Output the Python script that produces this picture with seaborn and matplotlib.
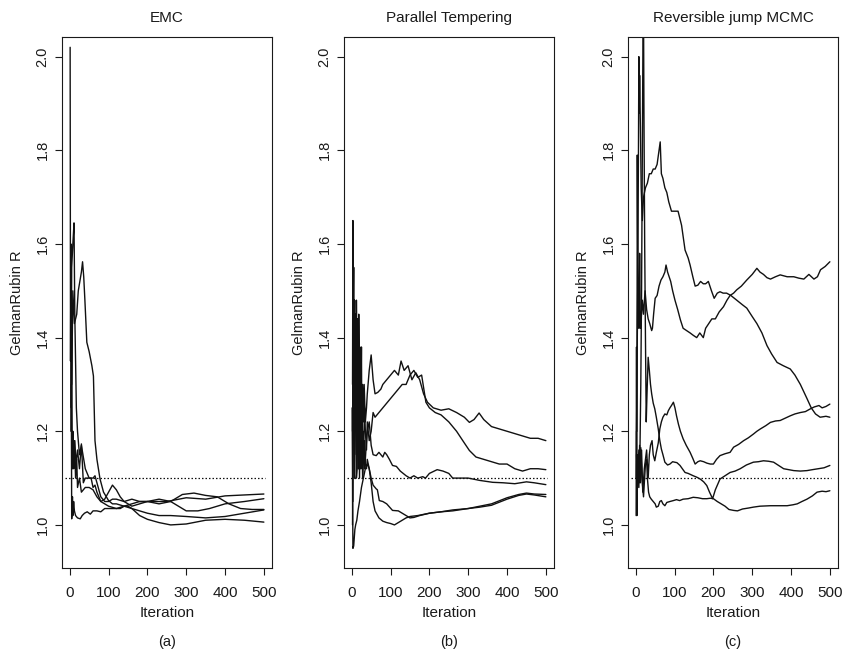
import matplotlib
matplotlib.use("Agg")
import matplotlib.pyplot as plt
import pandas as pd
import seaborn as sns

sns.set_theme(style="ticks")
plt.rcParams['font.family'] = ['Liberation Sans', 'DejaVu Sans']

panel_titles = ["EMC", "Parallel Tempering", "Reversible jump MCMC"]
panel_tags = ["(a)", "(b)", "(c)"]
x_ticks = [0, 100, 200, 300, 400, 500]
y_ticks = [1.0, 1.2, 1.4, 1.6, 1.8, 2.0]
y_tick_labels = ["1.0", "1.2", "1.4", "1.6", "1.8", "2.0"]
threshold = 1.1

# ---------------- (a) EMC ----------------
emc_it_1 = [1, 2, 3, 4, 5, 6, 8, 10, 12, 15, 18, 20, 25, 30, 40, 50, 60, 70, 80, 90, 100, 120, 140, 160, 180, 200, 230, 260, 300, 350, 400, 450, 500]
emc_r_1 = [2.02, 1.35, 1.6, 1.25, 1.4, 1.15, 1.2, 1.12, 1.18, 1.10, 1.14, 1.08, 1.1, 1.07, 1.08, 1.08, 1.075, 1.06, 1.05, 1.045, 1.04, 1.035, 1.04, 1.035, 1.02, 1.012, 1.005, 1.0, 1.002, 1.01, 1.012, 1.01, 1.006]
emc_it_2 = [3, 5, 8, 11, 13, 15, 17, 20, 25, 30, 40, 50, 60, 65, 70, 80, 90, 100, 110, 120, 140, 160, 180, 200, 230, 260, 290, 320, 350, 380, 410, 440, 470, 500]
emc_r_2 = [1.2, 1.55, 1.6, 1.645, 1.45, 1.35, 1.25, 1.2, 1.15, 1.17, 1.12, 1.1, 1.1, 1.105, 1.09, 1.06, 1.05, 1.05, 1.055, 1.055, 1.05, 1.055, 1.05, 1.05, 1.045, 1.05, 1.065, 1.068, 1.063, 1.06, 1.045, 1.035, 1.033, 1.033]
emc_it_3 = [5, 8, 12, 15, 18, 22, 26, 30, 33, 36, 39, 44, 50, 57, 61, 65, 70, 78, 87, 100, 110, 120, 140, 160, 180, 200, 250, 300, 350, 400, 450, 500]
emc_r_3 = [1.3, 1.5, 1.43, 1.44, 1.45, 1.5, 1.52, 1.54, 1.562, 1.53, 1.48, 1.39, 1.37, 1.34, 1.318, 1.18, 1.14, 1.098, 1.07, 1.052, 1.045, 1.045, 1.04, 1.045, 1.05, 1.05, 1.05, 1.058, 1.055, 1.062, 1.064, 1.066]
emc_it_4 = [4, 5, 7, 8, 10, 12, 15, 20, 27, 32, 38, 45, 53, 60, 70, 80, 90, 100, 115, 130, 140, 150, 160, 180, 200, 230, 260, 300, 350, 400, 450, 500]
emc_r_4 = [1.3, 1.013, 1.06, 1.02, 1.05, 1.03, 1.02, 1.015, 1.013, 1.02, 1.025, 1.028, 1.023, 1.03, 1.03, 1.028, 1.035, 1.035, 1.035, 1.035, 1.04, 1.04, 1.035, 1.03, 1.025, 1.02, 1.02, 1.018, 1.015, 1.018, 1.025, 1.032]
emc_it_5 = [3, 5, 7, 10, 13, 16, 20, 25, 30, 35, 40, 50, 55, 60, 65, 70, 80, 90, 100, 110, 120, 130, 140, 160, 180, 200, 230, 260, 280, 300, 330, 360, 400, 450, 500]
emc_r_5 = [1.5, 1.2, 1.12, 1.15, 1.18, 1.13, 1.16, 1.12, 1.173, 1.09, 1.1, 1.1, 1.1, 1.08, 1.085, 1.07, 1.05, 1.055, 1.07, 1.085, 1.075, 1.06, 1.05, 1.04, 1.045, 1.05, 1.055, 1.05, 1.04, 1.03, 1.03, 1.035, 1.045, 1.05, 1.056]

# ---------------- (b) Parallel Tempering ----------------
pt_it_1 = [2, 3, 4, 5, 6, 7, 8, 9, 10, 11, 12, 14, 15, 17, 18, 20, 21, 23, 25, 26, 28, 30, 32, 35, 38, 40, 45, 50, 55, 60, 67, 75, 80, 90, 100, 110, 120, 127, 135, 145, 155, 165, 175, 185, 195, 210, 230, 250, 270, 290, 303, 315, 328, 340, 360, 380, 400, 420, 440, 460, 480, 500]
pt_r_1 = [1.3, 1.65, 1.45, 1.55, 1.35, 1.48, 1.3, 1.45, 1.42, 1.25, 1.48, 1.3, 1.44, 1.2, 1.45, 1.25, 1.38, 1.2, 1.38, 1.2, 1.3, 1.22, 1.3, 1.22, 1.25, 1.28, 1.33, 1.363, 1.31, 1.28, 1.283, 1.29, 1.30, 1.31, 1.32, 1.33, 1.32, 1.35, 1.33, 1.34, 1.31, 1.325, 1.31, 1.28, 1.262, 1.25, 1.245, 1.248, 1.24, 1.23, 1.219, 1.225, 1.239, 1.225, 1.21, 1.205, 1.20, 1.195, 1.19, 1.185, 1.185, 1.18]
pt_it_2 = [3, 4, 5, 6, 8, 9, 10, 12, 13, 15, 16, 18, 20, 22, 25, 27, 30, 33, 35, 38, 40, 45, 50, 55, 60, 70, 80, 90, 100, 110, 120, 130, 140, 150, 160, 170, 180, 191, 200, 215, 230, 250, 270, 290, 303, 320, 340, 360, 380, 400, 420, 440, 460, 480, 500]
pt_r_2 = [1.05, 1.2, 1.4, 1.25, 1.2, 1.45, 1.35, 1.15, 1.4, 1.15, 1.3, 1.12, 1.25, 1.12, 1.25, 1.13, 1.15, 1.25, 1.2, 1.16, 1.22, 1.18, 1.2, 1.24, 1.23, 1.24, 1.25, 1.26, 1.27, 1.28, 1.29, 1.30, 1.30, 1.32, 1.33, 1.315, 1.32, 1.262, 1.25, 1.24, 1.235, 1.22, 1.20, 1.175, 1.159, 1.145, 1.14, 1.135, 1.13, 1.13, 1.12, 1.115, 1.12, 1.12, 1.118]
pt_it_3 = [2, 4, 5, 6, 8, 9, 11, 12, 14, 15, 17, 18, 20, 22, 24, 26, 28, 30, 33, 35, 38, 40, 45, 50, 55, 63, 70, 80, 85, 90, 97, 105, 115, 125, 140, 150, 160, 170, 183, 190, 200, 220, 235, 250, 260, 280, 300, 330, 363, 390, 420, 450, 470, 500]
pt_r_3 = [1.0, 1.5, 1.3, 1.2, 1.45, 1.42, 1.2, 1.25, 1.4, 1.38, 1.12, 1.15, 1.35, 1.3, 1.13, 1.28, 1.13, 1.2, 1.12, 1.14, 1.18, 1.2, 1.22, 1.17, 1.15, 1.148, 1.155, 1.145, 1.155, 1.15, 1.14, 1.127, 1.125, 1.115, 1.105, 1.10, 1.105, 1.10, 1.103, 1.10, 1.11, 1.118, 1.115, 1.11, 1.10, 1.10, 1.10, 1.095, 1.091, 1.09, 1.088, 1.092, 1.09, 1.086]
pt_it_4 = [1, 3, 5, 8, 10, 13, 16, 20, 25, 30, 35, 41, 45, 50, 55, 60, 70, 80, 90, 100, 110, 120, 130, 140, 150, 170, 200, 230, 260, 300, 330, 360, 400, 430, 450, 470, 500]
pt_r_4 = [1.25, 0.95, 0.955, 0.99, 1.0, 1.01, 1.03, 1.05, 1.08, 1.1, 1.12, 1.13, 1.12, 1.09, 1.05, 1.03, 1.015, 1.008, 1.005, 1.003, 1.0, 1.005, 1.01, 1.015, 1.018, 1.02, 1.025, 1.028, 1.03, 1.035, 1.038, 1.042, 1.055, 1.063, 1.066, 1.064, 1.06]
pt_it_5 = [2, 4, 5, 7, 8, 10, 12, 14, 16, 18, 20, 22, 24, 26, 28, 30, 33, 35, 38, 40, 45, 50, 55, 63, 66, 71, 80, 90, 105, 120, 130, 140, 150, 160, 175, 200, 230, 260, 300, 330, 360, 400, 430, 450, 470, 500]
pt_r_5 = [1.2, 1.45, 1.25, 1.1, 1.35, 1.3, 1.1, 1.12, 1.32, 1.28, 1.1, 1.25, 1.12, 1.2, 1.1, 1.14, 1.18, 1.13, 1.12, 1.14, 1.12, 1.1, 1.085, 1.077, 1.075, 1.052, 1.05, 1.045, 1.031, 1.03, 1.025, 1.02, 1.015, 1.016, 1.02, 1.025, 1.028, 1.032, 1.035, 1.04, 1.045, 1.058, 1.065, 1.068, 1.066, 1.065]

# ---------------- (c) Reversible jump MCMC ----------------
rj_it_1 = [1, 3, 5, 7, 8, 9, 10, 12, 14, 17, 20, 25, 30, 35, 40, 45, 50, 55, 60, 63, 66, 70, 75, 80, 85, 92, 100, 109, 118, 127, 135, 140, 147, 153, 160, 167, 174, 180, 187, 195, 202, 210, 217, 225, 234, 245, 260, 275, 286, 300, 312, 325, 338, 350, 364, 380, 398, 410, 424, 441, 452, 463, 475, 490, 500]
rj_r_1 = [1.1, 1.3, 1.5, 1.8, 2.0, 1.88, 1.96, 1.85, 1.72, 1.65, 1.70, 1.72, 1.73, 1.75, 1.75, 1.76, 1.76, 1.77, 1.80, 1.818, 1.75, 1.74, 1.72, 1.71, 1.69, 1.67, 1.67, 1.67, 1.64, 1.587, 1.57, 1.555, 1.53, 1.51, 1.512, 1.52, 1.515, 1.515, 1.52, 1.50, 1.484, 1.495, 1.498, 1.495, 1.495, 1.49, 1.48, 1.47, 1.463, 1.445, 1.43, 1.41, 1.383, 1.365, 1.347, 1.34, 1.333, 1.32, 1.30, 1.27, 1.25, 1.237, 1.23, 1.232, 1.23]
rj_it_2 = [3, 4, 5, 6, 8, 10, 11, 12, 14, 17, 20, 24, 28, 32, 36, 41, 43, 46, 50, 55, 60, 65, 70, 75, 78, 82, 86, 90, 95, 101, 108, 115, 122, 131, 140, 148, 157, 165, 174, 180, 188, 196, 205, 215, 226, 235, 243, 252, 260, 272, 286, 300, 312, 320, 329, 338, 347, 360, 372, 390, 407, 420, 433, 446, 459, 468, 476, 488, 500]
rj_r_2 = [1.2, 1.79, 1.6, 1.5, 1.42, 1.58, 1.5, 1.42, 1.44, 1.48, 1.45, 1.50, 1.46, 1.44, 1.43, 1.415, 1.42, 1.45, 1.484, 1.49, 1.51, 1.523, 1.53, 1.54, 1.555, 1.54, 1.53, 1.52, 1.50, 1.48, 1.46, 1.438, 1.42, 1.415, 1.41, 1.405, 1.40, 1.41, 1.40, 1.42, 1.43, 1.44, 1.44, 1.455, 1.466, 1.48, 1.49, 1.495, 1.502, 1.51, 1.523, 1.535, 1.548, 1.54, 1.535, 1.528, 1.525, 1.53, 1.534, 1.53, 1.53, 1.527, 1.525, 1.535, 1.525, 1.53, 1.545, 1.552, 1.562]
rj_it_3 = [1, 2, 3, 5, 8, 10, 12, 15, 18, 22, 25, 28, 32, 35, 38, 42, 45, 49, 53, 58, 62, 66, 70, 75, 80, 84, 88, 92, 97, 101, 105, 110, 115, 122, 130, 140, 147, 153, 160, 166, 175, 183, 192, 200, 208, 217, 230, 243, 252, 265, 278, 290, 303, 312, 321, 335, 347, 360, 372, 385, 398, 410, 424, 437, 450, 460, 472, 480, 490, 500]
rj_r_3 = [1.02, 1.38, 1.02, 1.15, 1.08, 1.17, 1.09, 1.16, 1.07, 1.12, 1.14, 1.16, 1.10, 1.15, 1.17, 1.18, 1.15, 1.137, 1.155, 1.175, 1.205, 1.22, 1.23, 1.237, 1.235, 1.244, 1.25, 1.255, 1.262, 1.25, 1.233, 1.215, 1.2, 1.184, 1.17, 1.155, 1.142, 1.13, 1.135, 1.137, 1.135, 1.132, 1.13, 1.13, 1.14, 1.148, 1.152, 1.155, 1.166, 1.172, 1.18, 1.186, 1.194, 1.2, 1.205, 1.212, 1.219, 1.222, 1.223, 1.228, 1.233, 1.237, 1.24, 1.242, 1.248, 1.252, 1.255, 1.25, 1.253, 1.258]
rj_it_4 = [2, 5, 8, 10, 13, 15, 17, 19, 20, 21, 23, 25, 27, 29, 32, 35, 38, 41, 45, 49, 53, 58, 62, 66, 70, 75, 82, 88, 95, 100, 106, 114, 120, 127, 135, 148, 157, 166, 175, 183, 190, 198, 205, 217, 230, 243, 256, 269, 285, 303, 316, 329, 342, 355, 368, 381, 394, 407, 424, 441, 455, 470, 485, 500]
rj_r_4 = [1.15, 1.08, 1.15, 1.1, 1.3, 1.5, 1.8, 2.1, 2.1, 1.9, 1.6, 1.4, 1.22, 1.28, 1.358, 1.33, 1.30, 1.28, 1.26, 1.248, 1.23, 1.205, 1.18, 1.162, 1.15, 1.134, 1.128, 1.13, 1.135, 1.134, 1.133, 1.127, 1.12, 1.112, 1.11, 1.105, 1.102, 1.098, 1.092, 1.084, 1.07, 1.056, 1.075, 1.098, 1.105, 1.112, 1.115, 1.12, 1.128, 1.134, 1.135, 1.137, 1.136, 1.134, 1.127, 1.12, 1.118, 1.116, 1.115, 1.116, 1.118, 1.12, 1.122, 1.127]
rj_it_5 = [2, 3, 5, 8, 10, 13, 16, 20, 25, 28, 30, 33, 36, 40, 45, 50, 53, 58, 62, 66, 70, 75, 80, 88, 97, 105, 113, 122, 135, 148, 160, 172, 183, 192, 200, 210, 220, 230, 240, 252, 262, 275, 290, 303, 320, 347, 370, 390, 405, 416, 428, 441, 455, 467, 480, 490, 500]
rj_r_5 = [1.2, 1.05, 1.1, 1.16, 1.09, 1.165, 1.1, 1.06, 1.13, 1.14, 1.1, 1.07, 1.06, 1.055, 1.05, 1.045, 1.038, 1.04, 1.05, 1.052, 1.045, 1.041, 1.048, 1.05, 1.052, 1.054, 1.052, 1.055, 1.056, 1.059, 1.058, 1.056, 1.056, 1.057, 1.056, 1.05, 1.045, 1.04, 1.033, 1.031, 1.03, 1.034, 1.036, 1.038, 1.04, 1.041, 1.041, 1.041, 1.043, 1.045, 1.05, 1.055, 1.062, 1.07, 1.072, 1.071, 1.073]

panels = [
    [(emc_it_1, emc_r_1), (emc_it_2, emc_r_2), (emc_it_3, emc_r_3), (emc_it_4, emc_r_4), (emc_it_5, emc_r_5)],
    [(pt_it_1, pt_r_1), (pt_it_2, pt_r_2), (pt_it_3, pt_r_3), (pt_it_4, pt_r_4), (pt_it_5, pt_r_5)],
    [(rj_it_1, rj_r_1), (rj_it_2, rj_r_2), (rj_it_3, rj_r_3), (rj_it_4, rj_r_4), (rj_it_5, rj_r_5)],
]

W, H = 845, 650
fig = plt.figure(figsize=(W / 100, H / 100), dpi=100)
fig.patch.set_facecolor("white")

lefts_px = [62, 344, 628]
width_px = 210
top_px, bottom_px = 37, 568
ink = "#1a1a1a"

for k, chains in enumerate(panels):
    rect = [lefts_px[k] / W, 1 - bottom_px / H, width_px / W, (bottom_px - top_px) / H]
    ax = fig.add_axes(rect)
    rows = []
    for c, (its, rs) in enumerate(chains):
        for i, r in zip(its, rs):
            rows.append({"Iteration": i, "R": r, "chain": c})
    df = pd.DataFrame(rows)
    sns.lineplot(data=df, x="Iteration", y="R", units="chain", estimator=None,
                 color="#111111", lw=1.0, ax=ax, legend=False)
    ax.hlines(threshold, -12, 502, colors="#111111", linestyles=(0, (1.2, 1.6)), lw=0.9)

    ax.set_xlim(-19.96, 520.96)
    ax.set_ylim(0.908, 2.042)
    ax.set_xticks(x_ticks)
    ax.set_xticklabels([str(t) for t in x_ticks])
    ax.set_yticks(y_ticks)
    ax.set_yticklabels(y_tick_labels, rotation=90, va="center")
    ax.tick_params(axis="both", direction="out", length=5, width=0.8,
                   color=ink, labelcolor=ink)
    ax.tick_params(axis="x", labelsize=11, pad=8)
    ax.tick_params(axis="y", labelsize=10.5, pad=4)
    for s in ax.spines.values():
        s.set_visible(True)
        s.set_linewidth(0.8)
        s.set_color(ink)
    ax.set_facecolor("white")
    ax.grid(False)
    ax.set_title(panel_titles[k], fontsize=11, color=ink, pad=11)
    ax.set_xlabel("Iteration", fontsize=11, color=ink, labelpad=4.5)
    ax.set_ylabel("GelmanRubin R", fontsize=10.5, color=ink, labelpad=8)
    cx = (lefts_px[k] + width_px / 2) / W
    fig.text(cx, 1 - 642 / H, panel_tags[k], ha="center", va="center",
             fontsize=10.5, color=ink)

fig.savefig("out.png", dpi=100, facecolor="white")
